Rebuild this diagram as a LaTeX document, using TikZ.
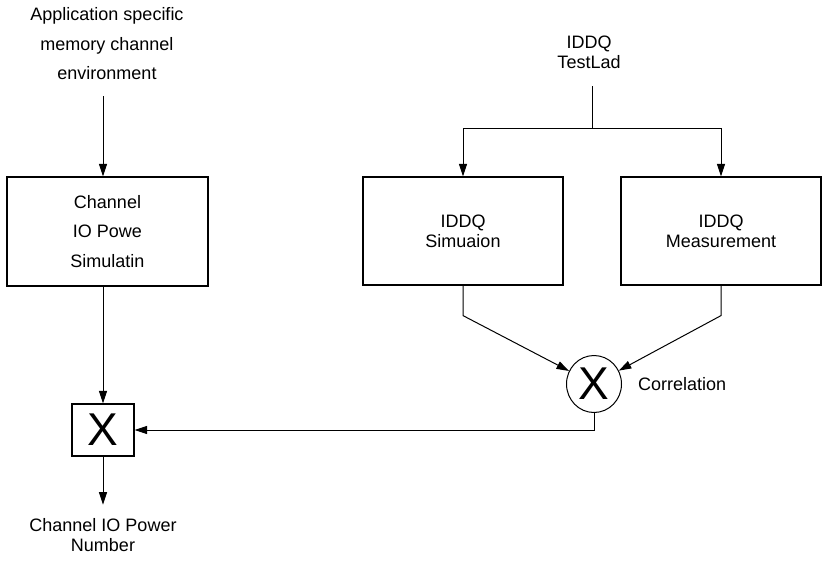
\documentclass[tikz,border=0pt]{standalone}
\usepackage{fontspec}
\setmainfont{Liberation Sans}
\usetikzlibrary{arrows.meta,shapes.geometric}
\begin{document}
\begin{tikzpicture}[x=1pt,y=-1pt,
  txt/.style={inner sep=0pt, align=center, font=\fontsize{18}{20}\selectfont},
  widetxt/.style={inner sep=0pt, align=center, font=\fontsize{18}{29.5}\selectfont},
  blk/.style={draw, line width=1.2pt, inner sep=0pt, align=center},
  arr/.style={line width=1pt, -{Triangle[length=12.5pt,width=8pt]}},
  ln/.style={line width=1pt}]
\fill[white] (0,0) rectangle (826,563);
\useasboundingbox (0,0) rectangle (826,563);

% nodes
\node[widetxt] (env) at (107,44) {Application specific\\memory channel\\environment};
\node[blk, widetxt, minimum width=201pt, minimum height=109pt] (chsim) at (107.5,231.5) {Channel\\IO Powe\\Simulatin};
\node[blk, minimum width=62pt, minimum height=52pt, font=\fontsize{46}{46}\selectfont] (mult) at (103,430) {X};
\node[txt] (out) at (103,535.5) {Channel IO Power\\Number};

\node[txt] (test) at (589,52.5) {IDDQ\\TestLad};
\coordinate (ttop) at (592,86);
\coordinate (split) at (592,128);
\node[blk, txt, minimum width=200pt, minimum height=108pt] (sim) at (463,231) {IDDQ\\Simuaion};
\node[blk, txt, minimum width=200pt, minimum height=108pt] (meas) at (721,231) {IDDQ\\Measurement};
\node[ellipse, draw, line width=1pt, inner sep=0pt, minimum width=55pt, minimum height=57pt, font=\fontsize{46}{46}\selectfont] (corr) at (594,384) {X};
\node[txt, anchor=west] (corrlbl) at (638,384) {Correlation};

% connectors
\draw[arr, shorten <=16pt] (mult |- env.south) -- (mult |- chsim.north);
\draw[arr] (mult |- chsim.south) -- (mult.north);
\draw[arr, shorten >=14pt] (mult.south) -- (out.north);

\draw[ln] (ttop) -- (split);
\draw[arr] (split) -| (sim.north);
\draw[arr] (split) -| (meas.north);

\draw[arr] (sim.south) -- ++(0,30) -- (corr);
\draw[arr] (meas.south) -- ++(0,30) -- (corr);
\draw[arr] (corr.south) |- (mult.east);
\end{tikzpicture}
\end{document}
